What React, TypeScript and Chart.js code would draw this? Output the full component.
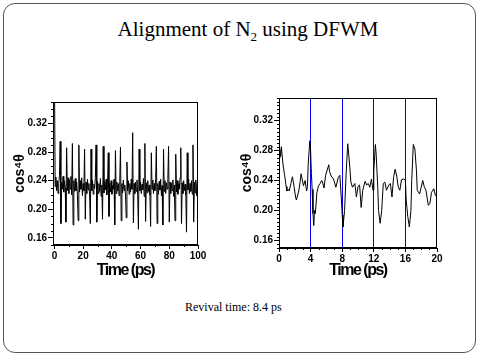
import React, { useEffect, useRef } from "react";
import { Chart, registerables } from "chart.js";

Chart.register(...registerables);

// ---------- data ----------
const LEFT_STEP = 0.5; // ps between samples
const leftValues = [
  0.40, 0.232, 0.245, 0.226, 0.240, 0.222, 0.236, 0.247, 0.295, 0.180,
  0.238, 0.228, 0.246, 0.224, 0.240, 0.230, 0.182, 0.286, 0.226, 0.244,
  0.222, 0.241, 0.228, 0.246, 0.220, 0.292, 0.178, 0.240, 0.225, 0.243,
  0.226, 0.238, 0.221, 0.184, 0.290, 0.224, 0.240, 0.228, 0.244, 0.219,
  0.236, 0.226, 0.284, 0.186, 0.238, 0.222, 0.242, 0.227, 0.236, 0.220,
  0.180, 0.284, 0.226, 0.241, 0.221, 0.235, 0.229, 0.244, 0.290, 0.182,
  0.239, 0.222, 0.236, 0.225, 0.243, 0.218, 0.234, 0.186, 0.288, 0.223,
  0.239, 0.227, 0.242, 0.220, 0.235, 0.279, 0.190, 0.237, 0.224, 0.240,
  0.221, 0.233, 0.228, 0.242, 0.178, 0.282, 0.222, 0.238, 0.226, 0.236,
  0.219, 0.240, 0.287, 0.184, 0.236, 0.223, 0.241, 0.226, 0.234, 0.220,
  0.188, 0.266, 0.226, 0.240, 0.221, 0.236, 0.224, 0.242, 0.228, 0.307,
  0.181, 0.236, 0.222, 0.238, 0.225, 0.241, 0.219, 0.172, 0.284, 0.226,
  0.238, 0.222, 0.235, 0.227, 0.243, 0.218, 0.292, 0.183, 0.237, 0.223,
  0.240, 0.225, 0.234, 0.220, 0.176, 0.279, 0.228, 0.241, 0.222, 0.236,
  0.226, 0.243, 0.288, 0.180, 0.236, 0.221, 0.239, 0.227, 0.242, 0.219,
  0.233, 0.178, 0.284, 0.225, 0.240, 0.222, 0.237, 0.228, 0.243, 0.288,
  0.182, 0.238, 0.222, 0.236, 0.226, 0.241, 0.218, 0.234, 0.184, 0.277,
  0.224, 0.240, 0.221, 0.236, 0.228, 0.244, 0.286, 0.180, 0.237, 0.222,
  0.240, 0.226, 0.235, 0.220, 0.168, 0.279, 0.227, 0.242, 0.222, 0.236,
  0.225, 0.240, 0.221, 0.290, 0.182, 0.238, 0.223, 0.241, 0.219, 0.236,
  0.224,
];

const rightTimes = [
  0.0, 0.1, 0.2, 0.3, 0.5, 0.7, 0.9, 1.0, 1.2, 1.3,
  1.5, 1.7, 1.9, 2.1, 2.2, 2.4, 2.5, 2.7, 2.8, 3.0,
  3.1, 3.3, 3.5, 3.6, 3.7, 3.9, 4.0, 4.1, 4.2, 4.3,
  4.4, 4.5, 4.6, 4.8, 5.0, 5.2, 5.4, 5.5, 5.7, 5.9,
  6.1, 6.3, 6.4, 6.6, 6.9, 7.2, 7.5, 7.7, 7.9, 8.0,
  8.1, 8.3, 8.5, 8.7, 8.9, 9.1, 9.3, 9.6, 9.8, 10.0,
  10.2, 10.4, 10.6, 10.9, 11.1, 11.3, 11.5, 11.7, 11.9, 12.0,
  12.2, 12.3, 12.5, 12.6, 12.8, 13.0, 13.2, 13.4, 13.6, 13.9,
  14.1, 14.3, 14.5, 14.7, 14.9, 15.1, 15.3, 15.5, 15.8, 16.0,
  16.1, 16.3, 16.5, 16.7, 16.8, 17.0, 17.2, 17.4, 17.5, 17.8,
  18.0, 18.2, 18.4, 18.6, 18.9, 19.1, 19.3, 19.6, 19.8, 20.0,
];
const rightValues = [
  0.269, 0.282, 0.272, 0.285, 0.262, 0.248, 0.232, 0.226, 0.228, 0.226,
  0.236, 0.245, 0.232, 0.218, 0.214, 0.222, 0.226, 0.240, 0.249, 0.238,
  0.233, 0.240, 0.226, 0.232, 0.262, 0.293, 0.280, 0.249, 0.228, 0.196,
  0.180, 0.200, 0.196, 0.224, 0.233, 0.236, 0.240, 0.238, 0.230, 0.247,
  0.254, 0.261, 0.252, 0.246, 0.242, 0.231, 0.244, 0.247, 0.214, 0.194,
  0.178, 0.200, 0.249, 0.289, 0.266, 0.238, 0.231, 0.236, 0.218, 0.232,
  0.234, 0.204, 0.227, 0.239, 0.234, 0.236, 0.231, 0.242, 0.227, 0.253,
  0.288, 0.275, 0.231, 0.200, 0.183, 0.200, 0.236, 0.238, 0.227, 0.234,
  0.236, 0.218, 0.244, 0.255, 0.246, 0.231, 0.227, 0.241, 0.242, 0.240,
  0.214, 0.192, 0.178, 0.200, 0.240, 0.288, 0.282, 0.253, 0.227, 0.222,
  0.231, 0.240, 0.231, 0.227, 0.207, 0.209, 0.224, 0.229, 0.220, 0.222,
];

const yTicks = [0.16, 0.2, 0.24, 0.28, 0.32];
const leftXTicks = [0, 20, 40, 60, 80, 100];
const rightXTicks = [0, 4, 8, 12, 16, 20];
const revivalMarks = [4, 8, 12, 16];

const Y_MIN = 0.15;
const Y_MAX = 0.35;

const TITLE = "Alignment of N";
const TITLE_SUB = "2";
const TITLE_END = " using DFWM";
const X_TITLE = "Time (ps)";
const Y_TITLE = "cos\u2074\u03b8";
const FOOTNOTE = "Revival time: 8.4 ps";

// ---------- helpers ----------
function range(a: number, b: number, step: number): number[] {
  const out: number[] = [];
  for (let v = a; v <= b + 1e-9; v += step) out.push(Math.round(v * 1000) / 1000);
  return out;
}

const boxPlugin = {
  id: "boxMinor",
  afterDraw(chart: any, _args: any, opts: any) {
    const { ctx, chartArea } = chart;
    const { left, top, right, bottom } = chartArea;
    ctx.save();
    ctx.strokeStyle = "#000";
    ctx.lineWidth = 1;
    ctx.strokeRect(Math.round(left) + 0.5, Math.round(top) + 0.5, Math.round(right - left) - 1, Math.round(bottom - top) - 1);
    const xs = chart.scales.x;
    const ys = chart.scales.y;
    ctx.beginPath();
    (opts.xMinor || []).forEach((v: number) => {
      const px = Math.round(xs.getPixelForValue(v)) + 0.5;
      ctx.moveTo(px, bottom);
      ctx.lineTo(px, bottom + 2);
    });
    (opts.yMinor || []).forEach((v: number) => {
      const py = Math.round(ys.getPixelForValue(v)) + 0.5;
      ctx.moveTo(left - 2, py);
      ctx.lineTo(left, py);
    });
    ctx.stroke();
    ctx.restore();
  },
};

function condenseTitle(scale: any, spacing: string) {
  if (scale.__condensed) return;
  const orig = scale.drawTitle;
  if (typeof orig !== "function") return;
  scale.drawTitle = function (...args: any[]) {
    const ctx = this.ctx;
    ctx.save();
    try {
      (ctx as any).letterSpacing = spacing;
    } catch (e) {}
    orig.apply(this, args);
    ctx.restore();
  };
  scale.__condensed = true;
}

const tickFont = { family: "'Liberation Sans', Arial, sans-serif", weight: "bold" as const, size: 10 };
const xTitleFont = { family: "'Liberation Sans', Arial, sans-serif", weight: "bold" as const, size: 16 };
const yTitleFont = { family: "'Liberation Sans', Arial, sans-serif", weight: "bold" as const, size: 14 };

function makeConfig(opts: {
  data: { x: number; y: number }[];
  xMin: number;
  xMax: number;
  xTicks: number[];
  yAxisWidth: number;
  xAxisHeight: number;
  padRight: number;
  padTop: number;
  yTitlePad: number;
  xMinor: number[];
  yMinor: number[];
  marks?: number[];
}): any {
  const marks = opts.marks || [];
  return {
    type: "line",
    data: {
      datasets: [
        {
          data: opts.data,
          borderColor: "#000",
          borderWidth: 1,
          pointRadius: 0,
          tension: 0,
          fill: false,
        },
      ],
    },
    plugins: [boxPlugin],
    options: {
      animation: false,
      responsive: false,
      maintainAspectRatio: false,
      layout: { padding: { left: 0, right: opts.padRight, top: opts.padTop, bottom: 0 } },
      plugins: {
        legend: { display: false },
        tooltip: { enabled: false },
        boxMinor: { xMinor: opts.xMinor, yMinor: opts.yMinor },
      },
      scales: {
        x: {
          type: "linear",
          min: opts.xMin,
          max: opts.xMax,
          afterBuildTicks: (s: any) => {
            s.ticks = opts.xTicks.map((v) => ({ value: v }));
          },
          afterFit: (s: any) => {
            s.height = opts.xAxisHeight;
            condenseTitle(s, "-1.5px");
          },
          grid: {
            drawOnChartArea: marks.length > 0,
            color: (c: any) => (c.tick && marks.includes(c.tick.value) ? "#0000ff" : "rgba(0,0,0,0)"),
            lineWidth: 1,
            tickColor: "#000",
            tickLength: 4,
          },
          border: { display: true, color: "#000" },
          ticks: {
            font: tickFont,
            color: "#000",
            padding: 1,
            maxRotation: 0,
            autoSkip: false,
            callback: (v: any) => String(v),
          },
          title: {
            display: true,
            text: X_TITLE,
            font: xTitleFont,
            color: "#000",
            padding: { top: 0, bottom: 1 },
          },
        },
        y: {
          type: "linear",
          min: Y_MIN,
          max: Y_MAX,
          afterBuildTicks: (s: any) => {
            s.ticks = yTicks.map((v) => ({ value: v }));
          },
          afterFit: (s: any) => {
            s.width = opts.yAxisWidth;
          },
          grid: { drawOnChartArea: false, tickColor: "#000", tickLength: 5 },
          border: { display: true, color: "#000" },
          ticks: {
            font: tickFont,
            color: "#000",
            padding: 1,
            autoSkip: false,
            callback: (v: any) => Number(v).toFixed(2),
          },
          title: {
            display: true,
            text: Y_TITLE,
            font: yTitleFont,
            color: "#000",
            padding: { top: opts.yTitlePad, bottom: 0 },
          },
        },
      },
    },
  };
}

function ChartCanvas(props: { config: any; left: number; top: number; width: number; height: number }) {
  const ref = useRef<HTMLCanvasElement | null>(null);
  useEffect(() => {
    if (!ref.current) return;
    const chart = new Chart(ref.current, props.config);
    return () => chart.destroy();
  }, []);
  return (
    <canvas
      ref={ref}
      width={props.width}
      height={props.height}
      style={{ position: "absolute", left: props.left, top: props.top, width: props.width, height: props.height }}
    />
  );
}

export default function App() {
  const leftData = leftValues.map((v, i) => ({ x: i * LEFT_STEP, y: v }));
  const rightData = rightValues.map((v, i) => ({ x: rightTimes[i], y: v }));

  const leftConfig = makeConfig({
    data: leftData,
    xMin: -1,
    xMax: 100,
    xTicks: leftXTicks,
    yAxisWidth: 45,
    xAxisHeight: 36,
    padRight: 12,
    padTop: 5,
    yTitlePad: 4,
    xMinor: range(10, 90, 20),
    yMinor: range(0.15, 0.35, 0.01).filter((v) => !yTicks.some((t) => Math.abs(t - v) < 1e-6)),
  });

  const rightConfig = makeConfig({
    data: rightData,
    xMin: 0,
    xMax: 20,
    xTicks: rightXTicks,
    yAxisWidth: 41,
    xAxisHeight: 33,
    padRight: 8,
    padTop: 5,
    yTitlePad: 1,
    xMinor: range(1, 19, 1).filter((v) => !rightXTicks.includes(v)),
    yMinor: range(0.15, 0.35, 0.005).filter((v) => !yTicks.some((t) => Math.abs(t - v) < 1e-6)),
    marks: revivalMarks,
  });

  return (
    <div style={{ position: "absolute", left: 0, top: 0, width: 480, height: 359, background: "#fff", overflow: "hidden" }}>
      <div
        style={{
          position: "absolute",
          left: 3,
          top: 3,
          width: 471,
          height: 348,
          border: "1px solid #555",
          borderRadius: 12,
          boxSizing: "content-box",
        }}
      />
      <div
        style={{
          position: "absolute",
          left: 0,
          width: 496,
          top: 17,
          textAlign: "center",
          fontFamily: "'Liberation Serif', 'Times New Roman', serif",
          fontSize: 21,
          lineHeight: "25px",
          color: "#000",
          whiteSpace: "nowrap",
        }}
      >
        {TITLE}
        <sub style={{ fontSize: 13, lineHeight: 0 }}>{TITLE_SUB}</sub>
        {TITLE_END}
      </div>
      <ChartCanvas config={leftConfig} left={8} top={95} width={202} height={186} />
      <ChartCanvas config={rightConfig} left={238} top={91} width={207} height={190} />
      <div
        style={{
          position: "absolute",
          left: 185,
          top: 300,
          fontFamily: "'Liberation Serif', 'Times New Roman', serif",
          fontSize: 12,
          lineHeight: "14px",
          color: "#000",
          whiteSpace: "nowrap",
        }}
      >
        {FOOTNOTE}
      </div>
    </div>
  );
}
